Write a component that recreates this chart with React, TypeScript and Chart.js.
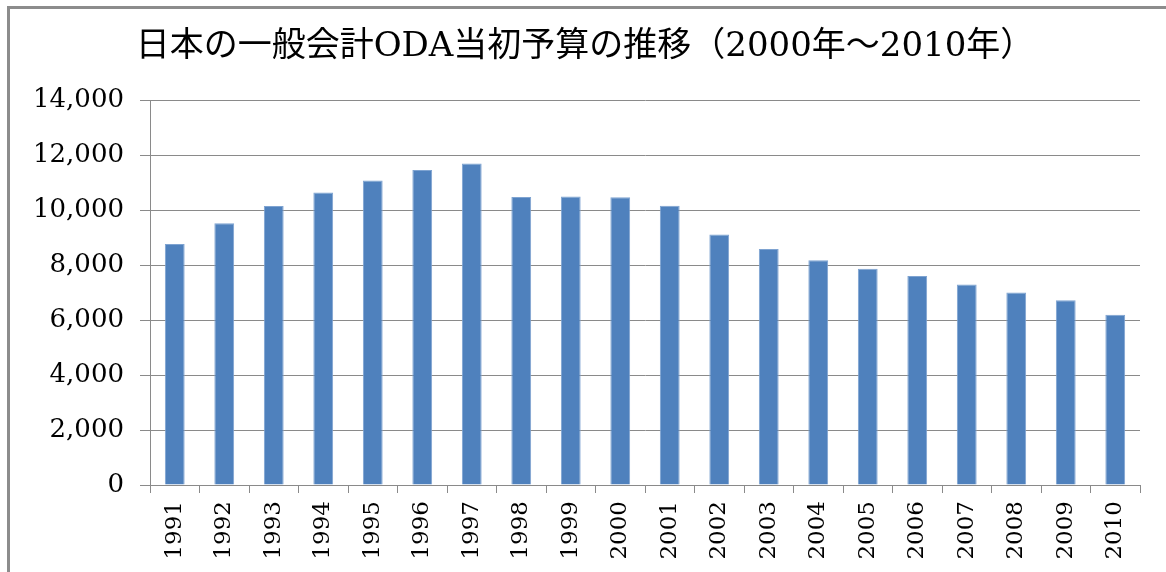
import React, { useEffect, useRef } from "react";
import { Chart, registerables } from "chart.js";

Chart.register(...registerables);

const TITLE = "日本の一般会計ODA当初予算の推移（2000年～2010年）";
const YEARS = [
  "1991", "1992", "1993", "1994", "1995", "1996", "1997", "1998", "1999", "2000",
  "2001", "2002", "2003", "2004", "2005", "2006", "2007", "2008", "2009", "2010",
];
const ODA_BUDGET = [
  8760, 9522, 10144, 10633, 11070, 11452, 11687, 10473, 10489, 10466,
  10152, 9106, 8578, 8169, 7862, 7597, 7293, 7002, 6722, 6187,
];
const Y_MIN = 0;
const Y_MAX = 14000;
const Y_STEP = 2000;

const FONT = "'DejaVu Serif', 'Noto Sans CJK JP', serif";

export default function App() {
  const ref = useRef<HTMLCanvasElement | null>(null);

  useEffect(() => {
    if (!ref.current) return;
    const chart = new Chart(ref.current, {
      type: "bar",
      data: {
        labels: YEARS,
        datasets: [
          {
            label: "ODA",
            data: ODA_BUDGET,
            backgroundColor: "#4F81BD",
            borderColor: "#7ea3d1",
            borderWidth: 1,
            barPercentage: 0.4,
            categoryPercentage: 1.0,
          },
        ],
      },
      options: {
        animation: false,
        responsive: true,
        maintainAspectRatio: false,
        layout: { padding: { top: 0, left: 30, right: 26, bottom: 0 } },
        plugins: {
          legend: { display: false },
          tooltip: { enabled: false },
          title: {
            display: true,
            text: TITLE,
            color: "#000",
            font: { family: FONT, size: 34, weight: "normal" },
            padding: { top: 27, bottom: 32.2 },
          },
        },
        scales: {
          x: {
            grid: {
              offset: true,
              drawOnChartArea: false,
              drawTicks: true,
              tickLength: 8,
              color: "#8a8a8a",
            },
            border: { display: true, color: "#8a8a8a" },
            ticks: {
              color: "#000",
              font: { family: FONT, size: 23 },
              minRotation: 90,
              maxRotation: 90,
              autoSkip: false,
              padding: 8,
            },
            afterFit: (scale: any) => {
              scale.height = 87;
            },
          },
          y: {
            min: Y_MIN,
            max: Y_MAX,
            grid: {
              color: "#8a8a8a",
              tickLength: 10,
            },
            border: { display: true, color: "#8a8a8a" },
            ticks: {
              stepSize: Y_STEP,
              color: "#000",
              font: { family: FONT, size: 26 },
              padding: 16,
              callback: (v: any) => Number(v).toLocaleString("en-US"),
            },
            afterFit: (scale: any) => {
              scale.width = 120;
            },
          },
        },
      },
    });
    return () => chart.destroy();
  }, []);

  return (
    <div style={{ position: "fixed", left: 0, top: 0, width: 1166, height: 572, background: "#fff" }}>
      <canvas ref={ref} />
      <div
        style={{
          position: "absolute",
          left: 7,
          top: 6,
          width: 1200,
          height: 700,
          borderTop: "3px solid #8c8c8c",
          borderLeft: "3px solid #8c8c8c",
          pointerEvents: "none",
        }}
      />
    </div>
  );
}
